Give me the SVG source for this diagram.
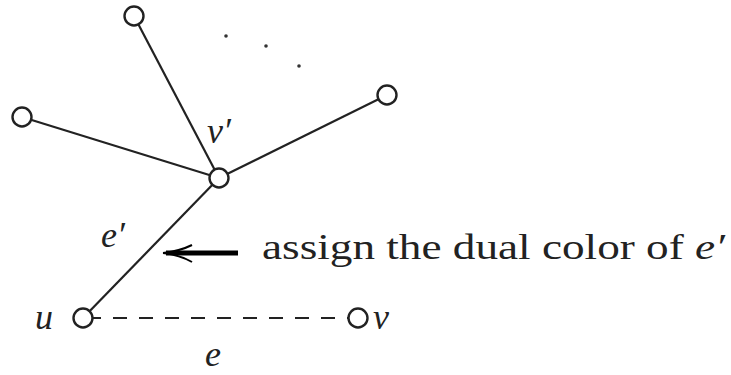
<svg xmlns="http://www.w3.org/2000/svg" width="731" height="375" viewBox="0 0 731 375">
<style>
.node{fill:#fff;stroke:#222;stroke-width:2.4}
.edge{stroke:#222;stroke-width:2.2;fill:none}
</style>
<rect width="731" height="375" fill="#fff"/>
<g id="connectors">
<line class="edge" x1="134" y1="16" x2="219" y2="178"/>
<line class="edge" x1="22" y1="117" x2="219" y2="178"/>
<line class="edge" x1="387" y1="95" x2="219" y2="178"/>
<line class="edge" x1="219" y1="178" x2="83" y2="318"/>
<line class="edge" x1="83" y1="318" x2="358" y2="318" stroke-dasharray="14,12" stroke-dashoffset="-4"/>
</g>
<g id="dots" fill="#333">
<circle cx="226" cy="36" r="1.8"/>
<circle cx="266" cy="46" r="1.8"/>
<circle cx="299" cy="66" r="1.8"/>
</g>
<g font-family="Liberation Serif, serif" font-style="italic" font-size="36" fill="#222">
<g id="n-top"><circle class="node" cx="134" cy="16" r="9.5"/></g>
<g id="n-left"><circle class="node" cx="22" cy="117" r="9.5"/></g>
<g id="n-right"><circle class="node" cx="387" cy="95" r="9.5"/></g>
<g id="n-vprime"><circle class="node" cx="219" cy="178" r="9.5"/><text x="207" y="143">v′</text></g>
<g id="n-u"><circle class="node" cx="83" cy="318" r="9.5"/><text x="35" y="329">u</text></g>
<g id="n-v"><circle class="node" cx="358" cy="318" r="9.5"/><text x="373" y="329">v</text></g>
<g id="labels">
<text x="101" y="247">e′</text>
<text x="205" y="366">e</text>
</g>
</g>
<g id="arrow">
<line x1="238" y1="253" x2="166" y2="253" stroke="#000" stroke-width="5"/>
<path d="M163 253 Q180 251 192 245 M163 253 Q180 255 192 262" stroke="#000" stroke-width="2" fill="none"/>
<text font-family="Liberation Serif, serif" font-size="36" fill="#222" x="262" y="259" textLength="463" lengthAdjust="spacingAndGlyphs">assign the dual color of <tspan font-style="italic">e′</tspan></text>
</g>
</svg>
